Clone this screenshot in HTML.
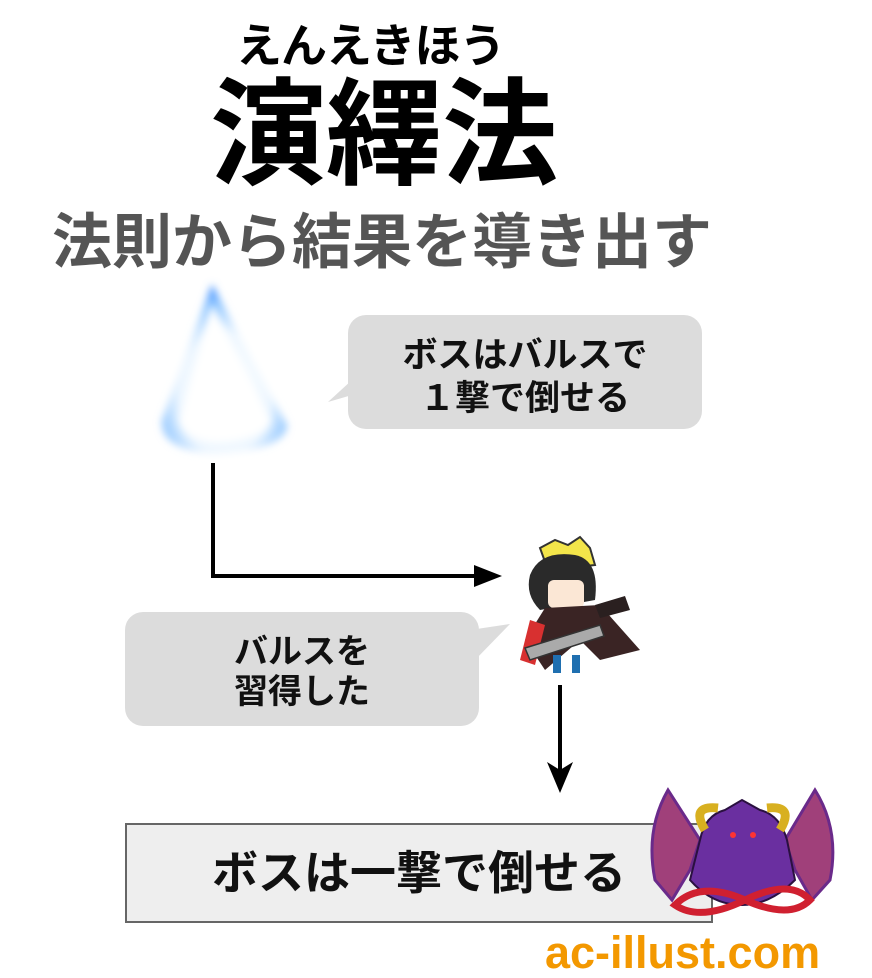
<!DOCTYPE html>
<html><head><meta charset="utf-8"><style>
body{margin:0;width:872px;height:976px;background:#fff;position:relative;overflow:hidden;font-family:"Liberation Sans","Noto Sans CJK JP",sans-serif;}
.t{position:absolute;white-space:nowrap;font-weight:bold;}
</style></head><body>
<div class="t" style="left:236px;top:10px;font-size:46px;letter-spacing:-1px;color:#000;">えんえきほう</div>
<div class="t" style="left:210px;top:70px;font-size:116px;line-height:130px;color:#000;">演繹法</div>
<div class="t" style="left:52px;top:207px;font-size:60px;line-height:72px;color:#555;">法則から結果を導き出す</div>
<svg width="872" height="976" style="position:absolute;left:0;top:0">
<defs>
<radialGradient id="g" cx="50%" cy="65%" r="60%"><stop offset="0" stop-color="#fff"/><stop offset="0.6" stop-color="#eef7ff"/><stop offset="0.9" stop-color="#8cc4ff"/><stop offset="1" stop-color="#5aa0ff"/></radialGradient>
<filter id="b"><feGaussianBlur stdDeviation="4"/></filter>
</defs>
<path d="M212,284 L162,420 Q160,450 215,454 Q285,450 287,425 Z" fill="url(#g)" filter="url(#b)"/>
<path d="M212,305 L180,420 Q185,440 215,442 Q265,440 270,420 Z" fill="#ffffff" filter="url(#b)"/>
<rect x="348" y="315" width="354" height="114" rx="18" fill="#dcdcdc"/>
<path d="M352,380 L328,402 L352,395 Z" fill="#dcdcdc"/>
<rect x="125" y="612" width="354" height="114" rx="18" fill="#dcdcdc"/>
<path d="M470,630 L510,624 L475,660 Z" fill="#dcdcdc"/>
<polyline points="213,463 213,576 480,576" fill="none" stroke="#000" stroke-width="4"/>
<path d="M474,565 L502,576 L474,587 Z" fill="#000"/>
<line x1="560" y1="685" x2="560" y2="770" stroke="#000" stroke-width="4"/>
<path d="M547,762 L560,793 L573,762 L560,770 Z" fill="#000"/>
<rect x="126" y="824" width="586" height="98" fill="#eeeeee" stroke="#666" stroke-width="2"/>
<!-- character -->
<path d="M540,548 L555,540 L568,545 L580,537 L590,548 L595,565 L548,570 Z" fill="#f3e54a" stroke="#333" stroke-width="2"/>
<path d="M530,575 Q540,550 575,555 Q600,560 595,600 L540,610 Q525,595 530,575Z" fill="#2a2a2a"/>
<rect x="548" y="580" width="36" height="28" rx="6" fill="#fbe7d5"/>
<path d="M525,640 L545,608 L600,605 L640,650 L600,660 L580,640 L545,670 Z" fill="#3a2424"/>
<path d="M520,660 L530,620 L545,625 L535,665Z" fill="#d83030"/>
<path d="M525,648 L600,625 L604,636 L530,660 Z" fill="#aaa" stroke="#333" stroke-width="1.5"/>
<path d="M595,605 L625,596 L630,610 L600,618 Z" fill="#2a2020"/>
<rect x="553" y="655" width="8" height="18" fill="#1f6fb0"/><rect x="572" y="655" width="8" height="18" fill="#1f6fb0"/>
<!-- demon -->
<path d="M668,790 Q645,830 655,880 L672,900 L690,870 L700,840 Z" fill="#a0407a" stroke="#6a2a8a" stroke-width="3"/>
<path d="M815,790 Q840,830 830,880 L812,900 L795,870 L785,840 Z" fill="#a0407a" stroke="#6a2a8a" stroke-width="3"/>
<path d="M700,840 Q705,815 725,810 L742,800 L760,810 Q780,815 787,840 L795,880 Q770,905 742,905 Q712,905 690,880 Z" fill="#6a2fa0" stroke="#2a1040" stroke-width="2"/>
<path d="M705,830 Q690,805 718,808 M780,830 Q795,805 767,808" stroke="#d8b020" stroke-width="9" fill="none"/>
<path d="M675,905 Q700,880 745,900 Q790,920 810,900 Q790,878 745,900 Q700,922 675,905Z" fill="none" stroke="#d02030" stroke-width="7"/>
<circle cx="733" cy="835" r="3" fill="#f33"/><circle cx="753" cy="835" r="3" fill="#f33"/>
</svg>
<div class="t" style="left:348px;top:334px;width:354px;text-align:center;font-size:35px;line-height:43px;color:#111;">ボスはバルスで<br>１撃で倒せる</div>
<div class="t" style="left:125px;top:632px;width:354px;text-align:center;font-size:34px;line-height:40px;color:#111;">バルスを<br>習得した</div>
<div class="t" style="left:126px;top:845px;width:586px;text-align:center;font-size:46px;line-height:56px;color:#111;">ボスは一撃で倒せる</div>
<div class="t" style="left:545px;top:928px;font-size:45px;line-height:50px;color:#f39800;">ac-illust.com</div>
</body></html>
